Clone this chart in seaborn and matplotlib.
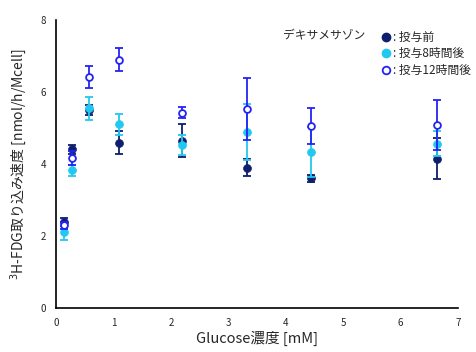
import matplotlib
matplotlib.use("Agg")
import matplotlib.pyplot as plt
import seaborn as sns
import pandas as pd
from matplotlib.lines import Line2D

glucose = [0.13, 0.28, 0.57, 1.1, 2.2, 3.33, 4.44, 6.63]
before = [2.39, 4.41, 5.5, 4.59, 4.65, 3.9, 3.6, 4.15]
before_err = [0.1, 0.12, 0.15, 0.32, 0.45, 0.24, 0.1, 0.57]
h8 = [2.1, 3.83, 5.55, 5.1, 4.52, 4.89, 4.33, 4.57]
h8_err = [0.2, 0.15, 0.32, 0.28, 0.28, 0.78, 0.7, 0.35]
h12 = [2.3, 4.16, 6.41, 6.9, 5.43, 5.53, 5.07, 5.08]
h12_err = [0.1, 0.2, 0.31, 0.31, 0.15, 0.86, 0.5, 0.7]

series = [": 投与前", ": 投与8時間後", ": 投与12時間後"]
legend_title = "デキサメサゾン"
xlabel = "Glucose濃度 [mM]"
ylabel = "$^3$H-FDG取り込み速度 [nmol/h/Mcell]"
xticks = [0, 1, 2, 3, 4, 5, 6, 7]
yticks = [0, 2, 4, 6, 8]

sns.set_style("white")
plt.rcParams['font.family'] = ['Noto Sans CJK JP', 'DejaVu Sans']

colors = ["#0d1f6e", "#22c8f0", "#2323f5"]

df = pd.DataFrame({
    "glucose": glucose * 3,
    "value": before + h8 + h12,
    "err": before_err + h8_err + h12_err,
    "series": [series[0]] * len(glucose) + [series[1]] * len(glucose) + [series[2]] * len(glucose),
})

fig = plt.figure(figsize=(4.76, 3.52), dpi=100)
ax = fig.add_axes([0.118, 0.125, 0.844, 0.818])

for i, s in enumerate(series):
    d = df[df["series"] == s]
    ax.errorbar(d["glucose"], d["value"], yerr=d["err"], fmt="none",
                ecolor=colors[i], elinewidth=1.3, capsize=3, capthick=1.3, zorder=2 + i)
    if i < 2:
        sns.scatterplot(data=d, x="glucose", y="value", ax=ax, color=colors[i],
                        s=32, marker="o", edgecolor=colors[i], linewidth=0.5,
                        zorder=3 + i, legend=False)
    else:
        sns.scatterplot(data=d, x="glucose", y="value", ax=ax,
                        s=24, marker="o", facecolor="white", edgecolor=colors[i],
                        linewidth=1.3, zorder=3 + i, legend=False)

ax.set_xlim(0, 7)
ax.set_ylim(0, 8)
ax.set_xticks(xticks)
ax.set_yticks(yticks)
ax.tick_params(axis="both", labelsize=7, length=2, width=1, direction="in", pad=7)
for sp in ["top", "right"]:
    ax.spines[sp].set_visible(False)
for sp in ["left", "bottom"]:
    ax.spines[sp].set_color("black")
    ax.spines[sp].set_linewidth(1.2)
ax.set_xlabel(xlabel, fontsize=10.5, labelpad=2)
ax.set_ylabel(ylabel, fontsize=10, labelpad=5)
ax.yaxis.set_label_coords(-0.068, 0.5)

handles = [
    Line2D([], [], marker="o", linestyle="none", color=colors[0], markersize=6),
    Line2D([], [], marker="o", linestyle="none", color=colors[1], markersize=6),
    Line2D([], [], marker="o", linestyle="none", markerfacecolor="white",
           markeredgecolor=colors[2], markeredgewidth=1.3, markersize=5.5),
]
ax.legend(handles, series, loc="upper left", bbox_to_anchor=(374 / 476, 1 - 25 / 352),
          bbox_transform=fig.transFigure, frameon=False, fontsize=8.5,
          handletextpad=0.1, handlelength=1.0, labelspacing=0.3, borderpad=0)
fig.text(283 / 476, 1 - 35 / 352, legend_title, fontsize=8.5, va="center", ha="left")

fig.savefig("out.png", dpi=100)
